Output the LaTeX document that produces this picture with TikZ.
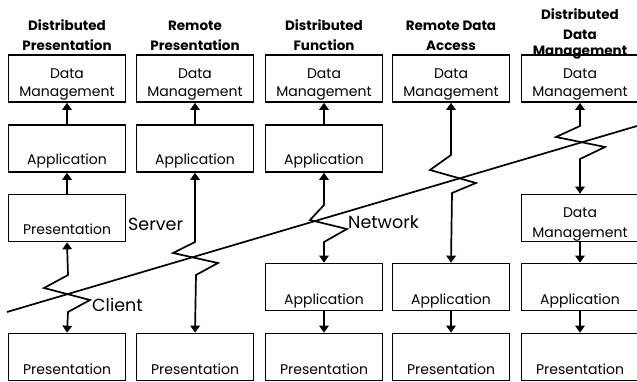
\documentclass[tikz,border=0pt]{standalone}
\usepackage{fontspec}
\setmainfont{Poppins}
\usetikzlibrary{arrows.meta}
\begin{document}
\begin{tikzpicture}[x=1pt,y=-1pt,
  box/.style={draw,line width=1.7pt,minimum width=117pt,minimum height=47pt,inner sep=0pt},
  txt/.style={anchor=base,inner sep=0pt,font=\fontsize{14}{16}\selectfont},
  hdr/.style={anchor=base,inner sep=0pt,font=\fontsize{13.5}{15}\selectfont\bfseries},
  lbl/.style={anchor=base west,inner sep=0pt,font=\fontsize{17.5}{19}\selectfont},
  conn/.style={line width=1.7pt},
  tip/.style={-{Triangle[width=9.5pt,length=7pt]}},
  dtip/.style={{Triangle[width=9.5pt,length=7pt]}-{Triangle[width=9.5pt,length=7pt]}}]
\useasboundingbox (0,0) rectangle (637,382);
% ---------- column 1
\node[box] (a1) at (67,78.5) {};
\node[box] (a2) at (67,148.5) {};
\node[box] (a3) at (67,218) {};
\node[box] (a5) at (67,357) {};
% ---------- column 2
\node[box] (b1) at (195,78.5) {};
\node[box] (b2) at (195,148.5) {};
\node[box] (b5) at (195,357) {};
% ---------- column 3
\node[box] (c1) at (324,78.5) {};
\node[box] (c2) at (324,148.5) {};
\node[box] (c4) at (324,287) {};
\node[box] (c5) at (324,357) {};
% ---------- column 4
\node[box] (d1) at (451,78.5) {};
\node[box] (d4) at (451,287) {};
\node[box] (d5) at (451,357) {};
% ---------- column 5
\node[box] (e1) at (580,78.5) {};
\node[box] (e3) at (580,218) {};
\node[box] (e4) at (580,287) {};
\node[box] (e5) at (580,357) {};
% ---------- box texts
\foreach \c/\x in {a/67,b/195,c/324,d/451,e/580}{
  \node[txt] (\c dt) at (\x,79) {Data};
  \node[txt] (\c mg) at (\x,97) {Management};
}
\foreach \n/\x in {a/67,b/195,c/324}{
  \node[txt] (\n at) at (\x,165) {Application};
}
\node[txt] (apt) at (67,234) {Presentation};
\node[txt] (edt) at (580,218) {Data};
\node[txt] (emg) at (580,237) {Management};
\foreach \n/\x in {c/324,d/451,e/580}{
  \node[txt] (\n apt) at (\x,304) {Application};
}
\foreach \n/\x in {a/67,b/195,c/324,d/451,e/580}{
  \node[txt] (\n pt) at (\x,374) {Presentation};
}
% ---------- headers
\node[hdr] (h1a) at (67,31) {Distributed};
\node[hdr] (h1b) at (67,51) {Presentation};
\node[hdr] (h2a) at (195,31) {Remote};
\node[hdr] (h2b) at (195,51) {Presentation};
\node[hdr] (h3a) at (324,31) {Distributed};
\node[hdr] (h3b) at (324,51) {Function};
\node[hdr] (h4a) at (451,31) {Remote Data};
\node[hdr] (h4b) at (451,51) {Access};
\node[hdr] (h5a) at (580,19.5) {Distributed};
\node[hdr] (h5b) at (580,39.5) {Data};
\node[hdr] (h5c) at (580,56) {Management};
% ---------- network line
\coordinate (n1) at (7,312);
\coordinate (n2) at (637,126);
\draw[conn] (n1) -- (n2);
% ---------- labels
\node[lbl] (srv) at (128,230) {Server};
\node[lbl] (cli) at (92,311) {Client};
\node[lbl] (net) at (348,229) {Network};
% ---------- connectors
\draw[conn,tip] (a2.north) -- (a1.south);
\draw[conn,tip] (a3.north) -- (a2.south);
\draw[conn,dtip] (a3.south) -- (68,275) -- (44,288) -- (90,300) -- (68,312) -- (a5.north);
\draw[conn,tip] (b2.north) -- (b1.south);
\draw[conn,dtip] (b2.south) -- (195,242) -- (173,253) -- (218,263) -- (196,275) -- (b5.north);
\draw[conn,tip] (c2.north) -- (c1.south);
\draw[conn,dtip] (c2.south) -- (324,205) -- (310,220) -- (347,229) -- (324,242) -- (c4.north);
\draw[conn,tip] (c4.south) -- (c5.north);
\draw[conn,dtip] (d1.south) -- (451,155) -- (430,170) -- (476,183) -- (452,193) -- (d4.north);
\draw[conn,tip] (d4.south) -- (d5.north);
\draw[conn,dtip] (e1.south) -- (580,126) -- (556,137) -- (605,147) -- (580,159) -- (e3.north);
\draw[conn,tip] (e3.south) -- (e4.north);
\draw[conn,tip] (e4.south) -- (e5.north);
\end{tikzpicture}
\end{document}
